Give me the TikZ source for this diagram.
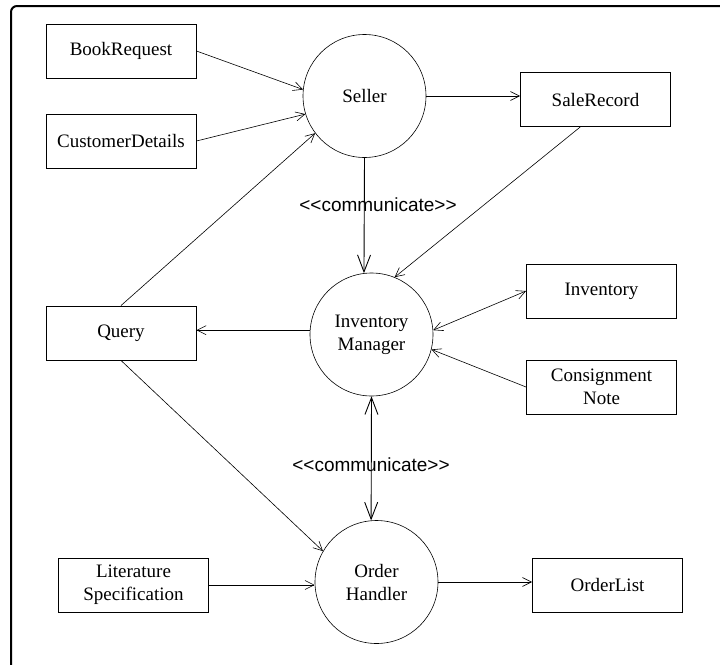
\documentclass[tikz,border=0pt]{standalone}
\usepackage{fontspec}
\setmainfont{Liberation Serif}
\setsansfont{Liberation Sans}
\usetikzlibrary{arrows.meta}

\begin{document}
\begin{tikzpicture}[
    x=1pt,y=-1pt,
    thing/.style={draw,rectangle,line width=0.9pt,minimum width=150pt,minimum height=54pt,inner sep=0pt,align=center,font=\fontsize{19}{23}\selectfont},
    proc/.style={draw,circle,line width=0.6pt,minimum size=123pt,inner sep=0pt,align=center,font=\fontsize{19}{23}\selectfont},
    flow/.style={line width=0.6pt,>={Straight Barb[length=9pt,width=9pt]},->},
    talk/.style={line width=0.9pt,>={Straight Barb[length=17pt,width=13pt]},->},
    stereo/.style={font=\sffamily\fontsize{19}{23}\selectfont,inner sep=0pt}
]

\useasboundingbox (0,0) rectangle (720,664);
\clip (0,0) rectangle (720,664);
\draw[line width=2pt,rounded corners=6pt] (11,6) rectangle (740,684);

% processes
\node[proc] (seller) at (364.5,96) {Seller};
\node[proc] (invman) at (371.5,334.5) {Inventory\\Manager};
\node[proc] (order) at (376.5,582) {Order\\Handler};

% data
\node[thing] (book) at (121,51) {BookRequest};
\node[thing] (cust) at (121,141) {CustomerDetails};
\node[thing] (sale) at (595.5,99.5) {SaleRecord};
\node[thing] (query) at (121,333) {Query};
\node[thing] (inv) at (601.5,291) {Inventory};
\node[thing] (cons) at (601.5,387) {Consignment\\Note};
\node[thing] (lit) at (133.5,585) {Literature\\Specification};
\node[thing] (olist) at (607.5,585) {OrderList};

\node[stereo] (comm1) at (378,205) {<{}<communicate>{}>};
\node[stereo] (comm2) at (371,465) {<{}<communicate>{}>};

% connectors
\draw[flow] (book.east) -- (seller.174);
\draw[flow] (cust.east) -- (seller.197);
\draw[flow] (query.north) -- (seller.217);
\draw[flow] (seller.east) -- (seller.east -| sale.west);
\draw[talk] (seller.south) -- (invman.97);
\draw[flow] (sale.241) -- (invman.68);
\draw[flow] (invman.176) -- (invman.176 -| query.east);
\draw[flow,<->] (invman.4) -- (inv.west);
\draw[flow] (cons.west) -- (invman.346);
\draw[talk,<->] (invman.south) -- (order.95);
\draw[flow] (query.south) -- (order.150);
\draw[flow] (lit.east) -- (lit.east -| order.west);
\draw[flow] (order.east) -- (order.east -| olist.west);

\end{tikzpicture}
\end{document}
